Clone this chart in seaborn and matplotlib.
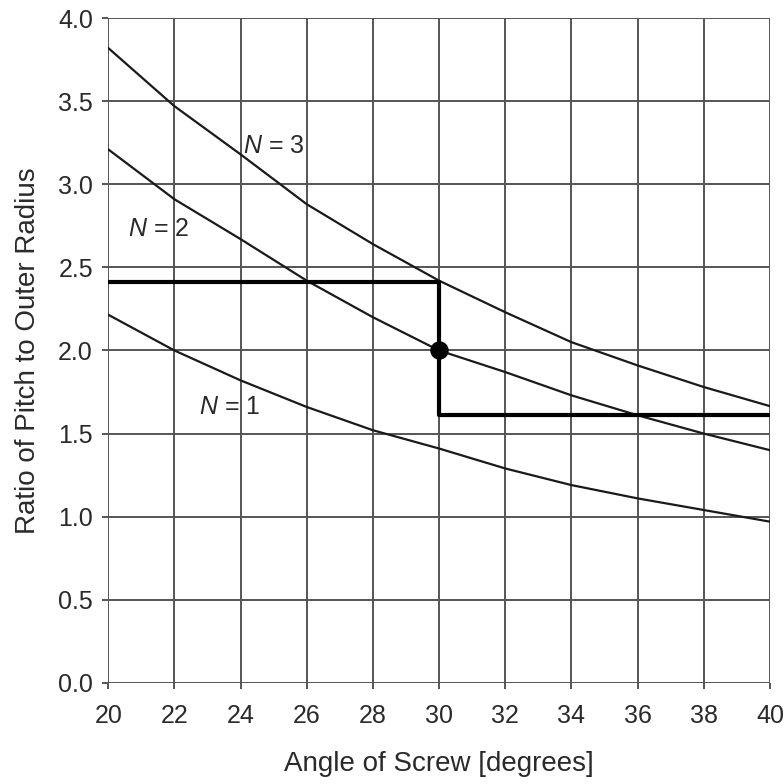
import numpy as np
import pandas as pd
import matplotlib
matplotlib.use("Agg")
import matplotlib.pyplot as plt
import seaborn as sns

# ---- data ----
angles = [20, 22, 24, 26, 28, 30, 32, 34, 36, 38, 40]
ratio_n1 = [2.215, 2.00, 1.82, 1.66, 1.52, 1.41, 1.29, 1.19, 1.11, 1.04, 0.97]
ratio_n2 = [3.21, 2.91, 2.67, 2.42, 2.20, 2.00, 1.87, 1.73, 1.61, 1.50, 1.40]
ratio_n3 = [3.82, 3.47, 3.18, 2.88, 2.64, 2.42, 2.23, 2.05, 1.91, 1.78, 1.665]
series_names = ["N = 1", "N = 2", "N = 3"]

step_x = [20, 30, 30, 40]
step_y = [2.41, 2.41, 1.61, 1.61]
point_x = [30]
point_y = [2.0]

label_text = [r"$N$ = 1", r"$N$ = 2", r"$N$ = 3"]
label_x = [23.68, 21.53, 25.0]
label_y = [1.66, 2.73, 3.23]

x_ticks = [20, 22, 24, 26, 28, 30, 32, 34, 36, 38, 40]
y_ticks = [0.0, 0.5, 1.0, 1.5, 2.0, 2.5, 3.0, 3.5, 4.0]

# ---- style ----
sns.set_theme(style="white")
plt.rcParams["font.family"] = ["Liberation Sans", "DejaVu Sans"]
plt.rcParams["mathtext.fontset"] = "custom"
plt.rcParams["mathtext.it"] = "Liberation Sans:italic"
plt.rcParams["mathtext.rm"] = "Liberation Sans"

df = pd.DataFrame({
    "angle": angles * 3,
    "ratio": ratio_n1 + ratio_n2 + ratio_n3,
    "series": sum([[s] * len(angles) for s in series_names], []),
})

fig = plt.figure(figsize=(7.84, 7.84), dpi=100)
ax = fig.add_axes([0.138, 0.129, 0.844, 0.848])

sns.lineplot(data=df, x="angle", y="ratio", units="series", estimator=None,
             color="#1a1a1a", linewidth=1.6, ax=ax, legend=False, zorder=3)

step_df = pd.DataFrame({"x": step_x, "y": step_y})
sns.lineplot(data=step_df, x="x", y="y", sort=False, estimator=None,
             color="black", linewidth=3.0, ax=ax, zorder=4)
sns.scatterplot(x=point_x, y=point_y, color="black", s=150, ax=ax, zorder=5,
                edgecolor="black")

for t, lx, ly in zip(label_text, label_x, label_y):
    ax.text(lx, ly, t, fontsize=18, ha="center", va="center", color="#2a2a2a")

ax.set_xlim(20, 40)
ax.set_ylim(0, 4)
ax.set_xticks(x_ticks)
ax.set_yticks(y_ticks)
ax.set_yticklabels([f"{v:.1f}" for v in y_ticks])
ax.grid(True, color="#555555", linewidth=1.4)
ax.set_axisbelow(True)
for sp in ax.spines.values():
    sp.set_visible(False)
ax.tick_params(axis="both", which="both", length=4, width=1.4, color="#555555",
               labelsize=18, labelcolor="#2a2a2a", left=True, bottom=True)
ax.tick_params(axis="x", pad=11)
ax.tick_params(axis="y", pad=7)
ax.set_xlabel("Angle of Screw [degrees]", fontsize=20, color="#2a2a2a", labelpad=17)
ax.set_ylabel("Ratio of Pitch to Outer Radius", fontsize=20, color="#2a2a2a", labelpad=12)

fig.savefig("out.png", dpi=100)
